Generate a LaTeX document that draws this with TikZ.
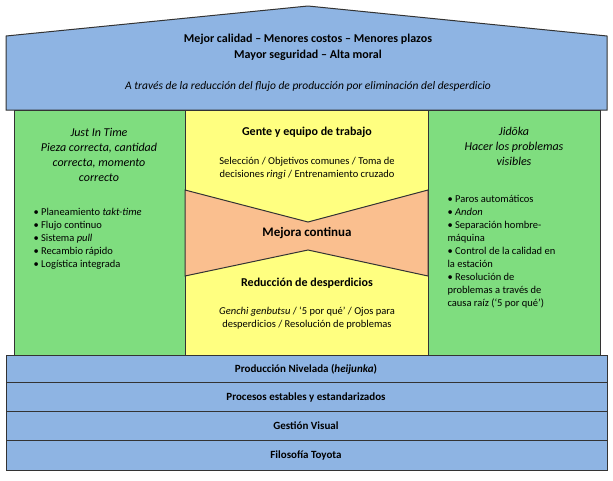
\documentclass[tikz,border=0pt]{standalone}
\usepackage{fontspec}
\setmainfont{Carlito}
\begin{document}
\begin{tikzpicture}[x=1pt,y=-1pt,
 box/.style={draw=black!80,line width=1pt},
 bar/.style={box,fill=blue!35!cyan!25!white,fill=barc},
 t/.style={align=center,font=\fontsize{10.5}{13}\selectfont}]
\definecolor{barc}{RGB}{142,180,227}
\definecolor{grn}{RGB}{127,221,127}
\definecolor{yel}{RGB}{255,255,128}
\definecolor{ora}{RGB}{250,191,143}
\useasboundingbox (0,0) rectangle (613,480);
\path[bar] (6,36) -- (308,6) -- (607,36) -- (607,110) -- (6,110) -- cycle;
\node[t,font=\bfseries\fontsize{12}{16}\selectfont] (t1) at (308,47) {Mejor calidad – Menores costos – Menores plazos\\Mayor seguridad – Alta moral};
\node[t,font=\itshape\fontsize{11.5}{14}\selectfont] (t2) at (308,86) {A través de la reducción del flujo de producción por eliminación del desperdicio};
\path[box,fill=grn] (14,110) rectangle (185,355);
\path[box,fill=yel] (185,110) rectangle (428,355);
\path[box,fill=grn] (428,110) rectangle (600,355);
\path[box,fill=ora] (185,190) -- (308,222) -- (428,190) -- (428,276) -- (308,250) -- (185,276) -- cycle;
\node[t,font=\itshape\fontsize{12}{15}\selectfont] (jit) at (99,155) {Just In Time\\Pieza correcta, cantidad\\correcta, momento\\correcto};
\node[t,align=left,anchor=north west] (jl) at (30,205) {• Planeamiento \textit{takt-time}\\• Flujo continuo\\• Sistema \textit{pull}\\• Recambio rápido\\• Logística integrada};
\node[t,font=\bfseries\fontsize{12}{15}\selectfont] (g) at (307,132) {Gente y equipo de trabajo};
\node[t] (gs) at (307,168) {Selección / Objetivos comunes / Toma de\\decisiones \textit{ringi} / Entrenamiento cruzado};
\node[t,font=\bfseries\fontsize{13}{15}\selectfont] (m) at (307,233) {Mejora continua};
\node[t,font=\bfseries\fontsize{12}{15}\selectfont] (r) at (307,283) {Reducción de desperdicios};
\node[t] (rs) at (307,318) {\textit{Genchi genbutsu} / ‘5 por qué’ / Ojos para\\desperdicios / Resolución de problemas};
\node[t,font=\itshape\fontsize{12}{15}\selectfont] (jd) at (514,146) {Jidōka\\Hacer los problemas\\visibles};
\node[t,align=left,anchor=north west] (jdl) at (444,192) {• Paros automáticos\\• \textit{Andon}\\• Separación hombre-\\máquina\\• Control de la calidad en\\la estación\\• Resolución de\\problemas a través de\\causa raíz (‘5 por qué’)};
\path[bar] (6,355) rectangle (607,382);
\path[bar] (6,382) rectangle (607,411);
\path[bar] (6,411) rectangle (607,440);
\path[bar] (6,440) rectangle (607,470);
\node[t,font=\bfseries\fontsize{11}{13}\selectfont] (b1) at (306,369) {Producción Nivelada (\textit{heijunka})};
\node[t,font=\bfseries\fontsize{11}{13}\selectfont] (b2) at (306,397) {Procesos estables y estandarizados};
\node[t,font=\bfseries\fontsize{11}{13}\selectfont] (b3) at (306,426) {Gestión Visual};
\node[t,font=\bfseries\fontsize{11}{13}\selectfont] (b4) at (306,455) {Filosofía Toyota};
\end{tikzpicture}
\end{document}
